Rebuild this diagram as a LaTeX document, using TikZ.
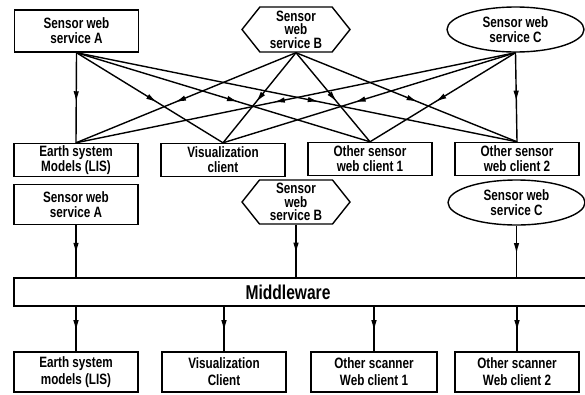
\documentclass[tikz,border=0pt]{standalone}
\usepackage{fontspec}
\setmainfont{Liberation Sans}[FakeStretch=0.78]
\usetikzlibrary{arrows.meta,shapes.geometric,shapes.symbols,decorations.markings}
\tikzstyle{lbl}=[font=\bfseries\fontsize{15}{15}\selectfont, align=center, inner sep=0pt]

\begin{document}
\begin{tikzpicture}[x=1pt,y=-1pt,line width=1.4pt]
%\draw[help lines] (0,0) grid[step=50] (585,394);
\useasboundingbox (0,0) rectangle (585,394);
\tikzstyle{box}=[lbl,rectangle,draw,minimum width=124pt]
\tikzstyle{hex}=[lbl,signal,signal to=west and east,signal pointer angle=103,draw,minimum width=108pt,minimum height=45pt,font=\bfseries\fontsize{15}{13.5}\selectfont]
\tikzstyle{oval}=[lbl,ellipse,draw,minimum width=137pt,minimum height=45pt]
\tikzstyle{low}=[box,minimum height=40pt,font=\bfseries\fontsize{15}{17}\selectfont]
\tikzstyle{flow}=[postaction={decorate},decoration={markings,mark=at position 0.55 with {\arrow{Latex[length=11pt,width=5.5pt]}}}]

% direct access
\node[box,minimum height=42pt] (sa) at (76.5,31) {Sensor web\\service A};
\node[hex] (sb) at (296,29.5) {Sensor\\web\\service B};
\node[oval] (sc) at (515.5,29.5) {Sensor web\\service C};

\node[box,minimum height=33pt] (em) at (76,160) {Earth system\\Models (LIS)};
\node[box,minimum height=33pt] (vc) at (223,160) {Visualization\\client};
\node[box,minimum height=33pt] (o1) at (370,159) {Other sensor\\web client 1};
\node[box,minimum height=33pt] (o2) at (517,159) {Other sensor\\web client 2};

\foreach \s in {sa,sb,sc}
  \foreach \t in {em,vc,o1,o2}
    \draw[flow] (\s.south) -- (\t.north);

% through middleware
\node[box,minimum height=40pt] (sa2) at (76,204.5) {Sensor web\\service A};
\node[hex,minimum height=44pt] (sb2) at (296,202) {Sensor\\web\\service B};
\node[oval] (sc2) at (516.5,202.5) {Sensor web\\service C};

\node[draw,rectangle,inner sep=0pt,minimum height=28pt,minimum width=576pt,
  label={[font=\bfseries\fontsize{20}{20}\selectfont,xshift=-14pt]center:Middleware}] (mw) at (302,292) {};

\node[low] (em2) at (76,372) {Earth system\\models (LIS)};
\node[low] (vc2) at (224,372) {Visualization\\Client};
\node[low,minimum width=126pt] (s1) at (374,372) {Other scanner\\Web client 1};
\node[low] (s2) at (517,372) {Other scanner\\Web client 2};

\foreach \s in {sa2,sb2,sc2}
  \draw[flow] (\s.south) -- (\s.south |- mw.north);
\foreach \t in {em2,vc2,s1,s2}
  \draw[flow] (\t |- mw.south) -- (\t.north);
\end{tikzpicture}
\end{document}
